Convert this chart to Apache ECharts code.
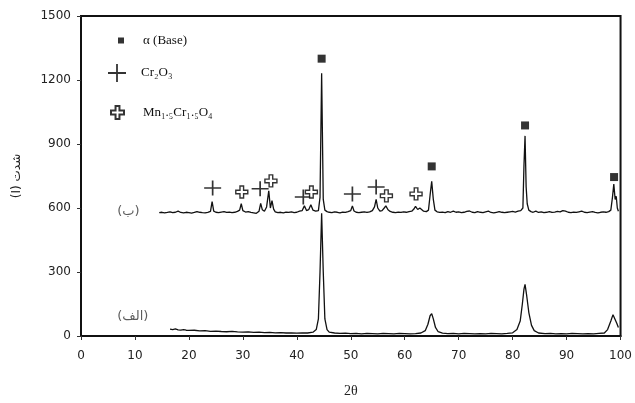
<!DOCTYPE html>
<html>
<head>
<meta charset="utf-8">
<script src="https://cdn.jsdelivr.net/npm/echarts@6/dist/echarts.min.js"></script>
<style>html,body{margin:0;padding:0;background:#fff;}#c{width:635px;height:403px;}</style>
</head>
<body>
<div id="c"></div>
<script>
// ---- data ----
const xTicks = [0, 10, 20, 30, 40, 50, 60, 70, 80, 90, 100];
const yTicks = [0, 300, 600, 900, 1200, 1500];

// pattern (ب) – upper trace [2θ, intensity]
const patternB = [
[14.5,578],[15,580],[15.5,577],[16,579],[16.5,582],[17,578],[17.5,580],[18,585],[18.5,579],[19,577],
[19.5,580],[20,578],[20.5,576],[21,579],[21.5,583],[22,580],[22.5,578],[23,577],[23.5,580],[24,584],
[24.3,630],[24.6,585],[25,580],[25.5,578],[26,581],[26.5,583],[27,579],[27.5,581],[28,578],[28.5,580],
[29,584],[29.4,590],[29.7,620],[30,588],[30.5,581],[31,583],[31.5,579],[32,577],[32.5,575],[33,585],
[33.3,622],[33.6,592],[34,585],[34.4,605],[34.8,680],[35.1,600],[35.4,635],[35.7,595],[36,582],[36.5,578],
[37,580],[37.5,577],[38,581],[38.5,579],[39,582],[39.5,578],[40,580],[40.5,585],[41,588],[41.4,610],
[41.8,588],[42.2,592],[42.6,615],[43,590],[43.5,585],[44,588],[44.3,650],[44.6,1232],[44.9,640],[45.2,590],
[45.6,583],[46,580],[46.5,578],[47,582],[47.5,580],[48,577],[48.5,581],[49,579],[49.5,583],[50,588],
[50.3,610],[50.6,586],[51,580],[51.5,578],[52,580],[52.5,582],[53,579],[53.5,582],[54,588],[54.4,605],
[54.7,640],[55,600],[55.4,585],[55.8,588],[56.2,600],[56.5,610],[56.9,592],[57.3,584],[57.8,580],[58.3,578],
[58.8,581],[59.3,579],[59.8,582],[60.3,580],[60.8,583],[61.3,585],[61.7,595],[62,608],[62.4,593],[62.8,600],
[63.1,592],[63.5,585],[64,583],[64.4,590],[64.7,660],[65,725],[65.3,640],[65.6,590],[66,582],[66.5,579],
[67,581],[67.5,578],[68,583],[68.5,580],[69,585],[69.5,580],[70,582],[70.5,578],[71,580],[71.5,584],
[72,586],[72.5,580],[73,578],[73.5,583],[74,580],[74.5,578],[75,582],[75.5,585],[76,579],[76.5,577],
[77,580],[77.5,583],[78,580],[78.5,578],[79,580],[79.5,582],[80,584],[80.5,581],[81,585],[81.5,588],
[81.9,600],[82.1,800],[82.3,938],[82.5,700],[82.7,620],[83,590],[83.4,583],[83.8,580],[84.3,585],[84.8,579],
[85.3,582],[85.8,578],[86.3,580],[86.8,583],[87.3,579],[87.8,581],[88.3,584],[88.8,582],[89.3,588],[89.8,585],
[90.3,580],[90.8,578],[91.3,581],[91.8,579],[92.3,582],[92.8,585],[93.3,580],[93.8,578],[94.3,581],[94.8,583],
[95.3,579],[95.8,577],[96.3,580],[96.8,582],[97.3,580],[97.8,583],[98.2,590],[98.5,650],[98.75,712],[99,640],
[99.2,655],[99.4,600],[99.6,585]
];

// pattern (الف) – lower trace [2θ, intensity]
const patternA = [
[16.5,32],[17,30],[17.5,33],[18,29],[18.5,28],[19,30],[19.5,27],[20,26],[21,27],[22,24],
[23,25],[24,22],[25,23],[26,21],[27,20],[28,22],[29,19],[30,18],[31,19],[32,17],
[33,18],[34,16],[35,17],[36,15],[37,16],[38,14],[39,15],[40,13],[41,15],[42,14],
[43,18],[43.6,30],[44,80],[44.3,300],[44.6,575],[44.9,300],[45.2,80],[45.6,30],[46,18],[47,14],
[48,12],[49,13],[50,11],[51,12],[52,10],[53,12],[54,11],[55,10],[56,12],[57,11],
[58,10],[59,12],[60,11],[61,10],[62,11],[63,14],[63.8,25],[64.3,55],[64.7,95],[65,105],
[65.3,80],[65.7,40],[66.2,20],[67,13],[68,11],[69,12],[70,10],[71,12],[72,11],[73,10],
[74,11],[75,10],[76,12],[77,11],[78,10],[79,12],[80,15],[80.8,30],[81.4,70],[81.8,150],
[82.1,220],[82.3,242],[82.6,190],[83,110],[83.5,50],[84,25],[84.8,14],[86,11],[87,12],[88,10],
[89,11],[90,10],[91,12],[92,11],[93,10],[94,11],[95,10],[96,12],[97,14],[97.6,30],
[98.2,70],[98.6,100],[98.9,95],[99.3,60],[99.6,40]
];

// phase markers [2θ, intensity]
const alphaBase = [[44.6,1300],[65,795],[82.3,987],[98.8,745]];
const cr2o3 = [[24.4,694],[33.2,690],[41.2,652],[50.3,666],[54.7,698]];
const mnCrSpinel = [[29.8,675],[35.2,727],[42.7,675],[56.6,657],[62.1,666]];

// trace labels
const traceLabels = [{name:'(ب)', value:[8.8,582]},{name:'(الف)', value:[9.6,93]}];

const seriesNames = ['α (Base)', 'Cr₂O₃', 'Mn₁.₅Cr₁.₅O₄'];
const xName = '2θ';
const yName = '(I) شدت';

// ---- chart ----
const plusPath = 'path://M0,9 H20 V11 H0 Z M9,0 H11 V20 H9 Z';
const openCrossPath = 'path://M7,0 H13 V7 H20 V13 H13 V20 H7 V13 H0 V7 H7 Z';
const legendText = {fontFamily:'Liberation Serif', fontSize:13, color:'#111'};

const chart = echarts.init(document.getElementById('c'), null, {renderer:'canvas'});
chart.setOption({
  animation: false,
  backgroundColor: '#fff',
  grid: {left:81, right:9, top:16, bottom:65, show:true, borderColor:'#111', borderWidth:2, backgroundColor:'transparent'},
  legend: [
    {data:[seriesNames[0]], left:113, top:29, itemWidth:6, itemHeight:6, selectedMode:false,
     textStyle:Object.assign({padding:[0,0,0,14]}, legendText)},
    {data:[seriesNames[1]], left:103, top:59, itemWidth:22, itemHeight:18, selectedMode:false,
     textStyle:Object.assign({padding:[0,0,0,8]}, legendText)},
    {data:[seriesNames[2]], left:105, top:100, itemWidth:13, itemHeight:13, selectedMode:false,
     textStyle:Object.assign({padding:[0,0,0,14]}, legendText)}
  ],
  xAxis: {
    type:'value', min:xTicks[0], max:xTicks[xTicks.length-1], interval:10,
    name:xName, nameLocation:'middle', nameGap:48,
    nameTextStyle:{fontFamily:'Liberation Serif', fontSize:14, color:'#222'},
    axisLine:{lineStyle:{color:'#111', width:2}},
    axisTick:{show:true, length:4, lineStyle:{color:'#333'}},
    axisLabel:{margin:14, fontFamily:'DejaVu Sans', fontSize:12, color:'#222', formatter:v => String(v)},
    splitLine:{show:false}
  },
  yAxis: {
    type:'value', min:yTicks[0], max:yTicks[yTicks.length-1], interval:300,
    name:yName, nameLocation:'middle', nameGap:58, nameRotate:90,
    nameTextStyle:{fontFamily:'DejaVu Sans', fontSize:12, color:'#222'},
    axisLine:{show:true, lineStyle:{color:'#111', width:2}},
    axisTick:{show:true, length:4, lineStyle:{color:'#333'}},
    axisLabel:{margin:10, fontFamily:'DejaVu Sans', fontSize:12, color:'#222', formatter:v => String(v)},
    splitLine:{show:false}
  },
  series: [
    {type:'line', name:'patternB', data:patternB, showSymbol:false, silent:true,
     lineStyle:{color:'#111', width:1.3}},
    {type:'line', name:'patternA', data:patternA, showSymbol:false, silent:true,
     lineStyle:{color:'#111', width:1.3}},
    {type:'scatter', name:seriesNames[0], data:alphaBase, symbol:'rect', symbolSize:8,
     itemStyle:{color:'#000'}},
    {type:'scatter', name:seriesNames[1], data:cr2o3, symbol:plusPath, symbolSize:[17,15],
     itemStyle:{color:'#000'}},
    {type:'scatter', name:seriesNames[2], data:mnCrSpinel, symbol:openCrossPath, symbolSize:12,
     itemStyle:{color:'#fff', borderColor:'#000', borderWidth:1.4}},
    {type:'scatter', name:'labels', data:traceLabels, symbolSize:0, silent:true,
     label:{show:true, position:'inside', formatter:'{b}', fontFamily:'DejaVu Sans', fontSize:13, color:'#333'}}
  ]
});
</script>
</body>
</html>
